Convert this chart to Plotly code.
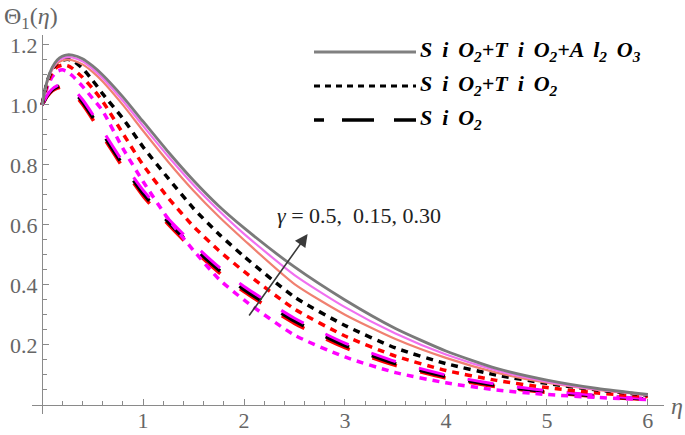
import plotly.graph_objects as go

# eta grid
eta = [0, 0.05, 0.1, 0.15, 0.2, 0.25, 0.3, 0.4, 0.5, 0.6, 0.8, 1.0, 1.25, 1.5, 1.75,
       2.0, 2.5, 3.0, 3.5, 4.0, 4.5, 5.0, 5.5, 6.0]

# SiO2+TiO2+Al2O3 (solid)
tern_black = [1.0, 1.08, 1.125, 1.15, 1.162, 1.167, 1.166, 1.154, 1.13, 1.1, 1.027, 0.945, 0.843, 0.748, 0.663,
              0.59, 0.46, 0.35, 0.255, 0.18, 0.122, 0.083, 0.055, 0.035]
tern_magenta = [1.0, 1.077, 1.121, 1.145, 1.155, 1.159, 1.158, 1.145, 1.12, 1.089, 1.014, 0.93, 0.828, 0.733, 0.648,
                0.57, 0.433, 0.326, 0.238, 0.168, 0.115, 0.078, 0.052, 0.034]
tern_red = [1.0, 1.075, 1.117, 1.139, 1.148, 1.151, 1.149, 1.135, 1.11, 1.078, 1.0, 0.914, 0.81, 0.714, 0.628,
            0.55, 0.403, 0.301, 0.22, 0.157, 0.108, 0.074, 0.05, 0.033]

# SiO2+TiO2 (dotted)
hyb_black = [1.0, 1.077, 1.118, 1.139, 1.149, 1.152, 1.149, 1.122, 1.082, 1.037, 0.955, 0.86, 0.755, 0.655, 0.57,
             0.495, 0.36, 0.265, 0.19, 0.138, 0.1, 0.072, 0.05, 0.033]
hyb_red = [1.0, 1.068, 1.108, 1.127, 1.133, 1.131, 1.122, 1.092, 1.055, 1.012, 0.905, 0.8, 0.69, 0.595, 0.515,
           0.445, 0.32, 0.23, 0.163, 0.115, 0.082, 0.058, 0.04, 0.028]
hyb_magenta = [1.0, 1.058, 1.094, 1.112, 1.117, 1.111, 1.097, 1.062, 1.022, 0.98, 0.855, 0.745, 0.62, 0.515, 0.42,
               0.35, 0.233, 0.16, 0.108, 0.074, 0.05, 0.035, 0.025, 0.018]

# SiO2 (long dash)
mono_black = [1.0, 1.03, 1.05, 1.06, 1.065, 1.062, 1.05, 1.01, 0.96, 0.905, 0.8, 0.705, 0.61, 0.525, 0.45,
              0.385, 0.28, 0.198, 0.138, 0.095, 0.065, 0.045, 0.03, 0.02]
mono_magenta = [1.0, 1.032, 1.053, 1.064, 1.07, 1.068, 1.057, 1.018, 0.969, 0.915, 0.81, 0.716, 0.621, 0.536, 0.46,
                0.395, 0.289, 0.206, 0.145, 0.1, 0.069, 0.048, 0.032, 0.021]
mono_red = [1.0, 1.028, 1.047, 1.056, 1.06, 1.056, 1.043, 1.002, 0.952, 0.897, 0.792, 0.697, 0.602, 0.517, 0.442,
            0.378, 0.272, 0.191, 0.132, 0.09, 0.061, 0.042, 0.028, 0.018]

xticks = [1, 2, 3, 4, 5, 6]
yticks = [0.2, 0.4, 0.6, 0.8, 1.0, 1.2]

SERIF = "Liberation Serif"

fig = go.Figure()

def add(y, color, width, dash):
    fig.add_trace(go.Scatter(x=eta, y=y, mode="lines",
                             line=dict(color=color, width=width, dash=dash, shape="spline", smoothing=0.6),
                             showlegend=False, hoverinfo="skip"))

# SiO2 long-dash group
add(mono_red, "#ff0000", 3.5, "26px,24px")
add(mono_black, "#000000", 3.5, "26px,24px")
add(mono_magenta, "#ff00ff", 3.0, "26px,24px")
# dotted hybrid
add(hyb_magenta, "#ff00ff", 3.5, "7px,6px")
add(hyb_red, "#ff0000", 3.5, "7px,6px")
add(hyb_black, "#000000", 3.5, "7px,6px")
# solid ternary
add(tern_red, "#f08070", 2.2, "solid")
add(tern_magenta, "#f070f0", 2.2, "solid")
add(tern_black, "#7a7a7a", 2.8, "solid")

FW, FH = 685, 435
xr = [-0.1, 6.16]
yr = [-0.03, 1.233]
# plot area in window pixels: x 32..664, y 35..414
L, T = 32, 35
R, B = FW - 664, FH - 414
PW, PH = FW - L - R, FH - T - B

axis_common = dict(showgrid=False, zeroline=False, showline=True, linecolor="#8a8a8a", linewidth=1.3,
                   ticks="inside", tickcolor="#8a8a8a", ticklen=6, tickwidth=1.2, automargin=False,
                   tickfont=dict(family=SERIF, size=22, color="#666666"))

fig.update_layout(
    width=FW, height=FH,
    margin=dict(l=L, r=R, t=T, b=B),
    paper_bgcolor="white", plot_bgcolor="white",
    xaxis=dict(range=xr, tickvals=xticks, anchor="free", position=(0 - yr[0]) / (yr[1] - yr[0]),
               ticklabelstandoff=-5,
               minor=dict(tick0=0, dtick=0.2, ticks="inside", ticklen=3.5, tickcolor="#8a8a8a"),
               **axis_common),
    yaxis=dict(range=yr, tickvals=yticks, anchor="free", position=(0 - xr[0]) / (xr[1] - xr[0]),
               tickformat=".1f",
               minor=dict(tick0=0, dtick=0.05, ticks="inside", ticklen=3.5, tickcolor="#8a8a8a"),
               **axis_common),
)

def px2paper(px, py):
    return (px - L) / PW, 1 - (py - T) / PH

# axis labels
ax_, ay_ = px2paper(2, 1)
fig.add_annotation(xref="paper", yref="paper", x=ax_, y=ay_, xanchor="left", yanchor="top",
                   text="Θ<sub>1</sub>(<i>η</i>)", showarrow=False,
                   font=dict(family=SERIF, size=24, color="#666666"))
ex, ey = px2paper(669, 406)
fig.add_annotation(xref="paper", yref="paper", x=ex, y=ey, xanchor="left", yanchor="middle",
                   text="<i>η</i>", showarrow=False, font=dict(family=SERIF, size=24, color="#666666"))

# gamma arrow and label
fig.add_annotation(x=2.63, y=0.57, ax=2.04, ay=0.293, xref="x", yref="y", axref="x", ayref="y",
                   showarrow=True, arrowhead=2, arrowsize=1.6, arrowwidth=1.6, arrowcolor="#3a3a3a", text="")
fig.add_annotation(x=2.31, y=0.633, xref="x", yref="y", xanchor="left", yanchor="middle", showarrow=False,
                   text="<i>γ</i> = 0.5,&nbsp; 0.15, 0.30", font=dict(family=SERIF, size=22, color="#222222"))

# legend (drawn manually)
S = " &#8201;"
legend = [
    (f"<b><i>S{S}i{S}O<sub>2</sub>+T{S}i{S}O<sub>2</sub>+A{S}l<sub>2</sub>{S}O<sub>3</sub></i></b>", 52,
     dict(color="#808080", width=3, dash="solid")),
    (f"<b><i>S{S}i{S}O<sub>2</sub>+T{S}i{S}O<sub>2</sub></i></b>", 86,
     dict(color="#000000", width=3, dash="6px,5px")),
    (f"<b><i>S{S}i{S}O<sub>2</sub></i></b>", 120,
     dict(color="#000000", width=3.5, dash="10px,18px,32px,20px,32px,20px")),
]
for txt, py, ln in legend:
    x0, y0 = px2paper(314, py)
    x1, _ = px2paper(416, py)
    fig.add_shape(type="line", xref="paper", yref="paper", x0=x0, x1=x1, y0=y0, y1=y0, line=ln)
    tx, ty = px2paper(418, py - 1)
    fig.add_annotation(xref="paper", yref="paper", x=tx, y=ty, xanchor="left", yanchor="middle", showarrow=False,
                       text=txt, font=dict(family=SERIF, size=22, color="#000000"))

fig.write_html("out.html", config={"displayModeBar": False},
               post_script="document.body.style.margin='0px';")
